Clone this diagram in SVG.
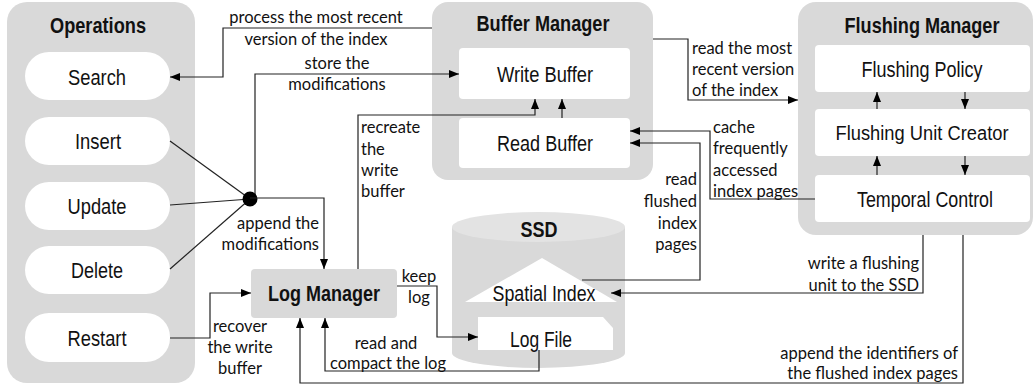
<svg xmlns="http://www.w3.org/2000/svg" width="1035" height="386" viewBox="0 0 1035 386">
<defs>
<marker id="ah" viewBox="0 0 10 10" refX="10" refY="5" markerWidth="10" markerHeight="10" markerUnits="userSpaceOnUse" orient="auto"><path d="M0,1 L10,5 L0,9 z" fill="#000"/></marker>
<style>
.panel{fill:#d9d9d9;}
.box{fill:#fff;}
.nt{font-family:"Liberation Sans Narrow","Liberation Sans",Arial,sans-serif;font-size:22px;fill:#111;text-anchor:middle;}
.tt{font-family:"Liberation Sans Narrow","Liberation Sans",Arial,sans-serif;font-size:22px;font-weight:bold;fill:#111;text-anchor:middle;}
.lb{font-family:Lato,"Open Sans",sans-serif;font-size:16.5px;fill:#111;}
.c{fill:none;stroke:#222;stroke-width:1.2;}
.a{marker-end:url(#ah);}
</style>
</defs>
<rect width="1035" height="386" fill="#fff"/>

<g id="operations">
<rect class="panel" x="7" y="2" width="188" height="381" rx="20"/>
<text class="tt" x="98" y="33" textLength="96" lengthAdjust="spacingAndGlyphs">Operations</text>
</g>
<g id="search">
<rect class="box" x="25" y="52" width="145" height="48" rx="24"/>
<text class="nt" x="97" y="85" textLength="58" lengthAdjust="spacingAndGlyphs">Search</text>
</g>
<g id="insert">
<rect class="box" x="25" y="117" width="145" height="48" rx="24"/>
<text class="nt" x="98" y="149" textLength="46" lengthAdjust="spacingAndGlyphs">Insert</text>
</g>
<g id="update">
<rect class="box" x="25" y="182" width="145" height="48" rx="24"/>
<text class="nt" x="97" y="214" textLength="59" lengthAdjust="spacingAndGlyphs">Update</text>
</g>
<g id="delete">
<rect class="box" x="25" y="246" width="145" height="48" rx="24"/>
<text class="nt" x="97" y="278" textLength="52" lengthAdjust="spacingAndGlyphs">Delete</text>
</g>
<g id="restart">
<rect class="box" x="25" y="313" width="145" height="49" rx="24"/>
<text class="nt" x="97" y="346" textLength="59" lengthAdjust="spacingAndGlyphs">Restart</text>
</g>

<g id="buffer-manager">
<rect class="panel" x="432" y="2" width="221" height="178" rx="16"/>
<text class="tt" x="543" y="31" textLength="133" lengthAdjust="spacingAndGlyphs">Buffer Manager</text>
</g>
<g id="write-buffer">
<rect class="box" x="459" y="48" width="171" height="51" rx="4"/>
<text class="nt" x="545" y="82" textLength="96" lengthAdjust="spacingAndGlyphs">Write Buffer</text>
</g>
<g id="read-buffer">
<rect class="box" x="459" y="118" width="171" height="50" rx="4"/>
<text class="nt" x="545" y="151" textLength="96" lengthAdjust="spacingAndGlyphs">Read Buffer</text>
</g>

<g id="flushing-manager">
<rect class="panel" x="798" y="2" width="235" height="233" rx="18"/>
<text class="tt" x="922" y="33" textLength="155" lengthAdjust="spacingAndGlyphs">Flushing Manager</text>
</g>
<g id="flushing-policy">
<rect class="box" x="815" y="45" width="215" height="47" rx="4"/>
<text class="nt" x="922" y="77" textLength="121" lengthAdjust="spacingAndGlyphs">Flushing Policy</text>
</g>
<g id="flushing-unit-creator">
<rect class="box" x="815" y="109" width="215" height="47" rx="4"/>
<text class="nt" x="922" y="140" style="font-size:20px" textLength="173" lengthAdjust="spacingAndGlyphs">Flushing Unit Creator</text>
</g>
<g id="temporal-control">
<rect class="box" x="815" y="175" width="215" height="47" rx="4"/>
<text class="nt" x="925" y="207" textLength="136" lengthAdjust="spacingAndGlyphs">Temporal Control</text>
</g>

<g id="log-manager">
<rect class="panel" x="251" y="269" width="146" height="49" rx="4"/>
<text class="tt" x="324" y="301" textLength="112" lengthAdjust="spacingAndGlyphs">Log Manager</text>
</g>

<g id="ssd">
<path d="M452,227 L452,353 A86.5,15 0 0 0 625,353 L625,227 Z" fill="#d9d9d9"/>
<ellipse cx="538.5" cy="227" rx="86.5" ry="15" fill="#e3e3e3"/>
<text class="tt" x="539" y="237" textLength="37" lengthAdjust="spacingAndGlyphs">SSD</text>
</g>
<g id="spatial-index">
<polygon points="542,258 617,302 465,302" fill="#fff"/>
<text class="nt" x="544" y="301" textLength="103" lengthAdjust="spacingAndGlyphs">Spatial Index</text>
</g>
<g id="log-file">
<polygon points="478,317 603,317 613,328 613,350 478,350" fill="#fff"/>
<text class="nt" x="541" y="347" textLength="62" lengthAdjust="spacingAndGlyphs">Log File</text>
</g>

<g id="connectors">
<polyline class="c a" points="432,28 223,28 223,77 170,77"/>
<polyline class="c a" points="255,197 255,74 459,74"/>
<line class="c" x1="170" y1="141" x2="250" y2="199"/>
<line class="c" x1="170" y1="205" x2="250" y2="199"/>
<line class="c" x1="170" y1="269" x2="250" y2="199"/>
<circle cx="250" cy="199" r="7.5" fill="#000"/>
<polyline class="c a" points="250,198 324,198 324,269"/>
<polyline class="c a" points="358,269 358,115 535,115 535,99"/>
<polyline class="c a" points="562,118 562,99"/>
<polyline class="c a" points="170,338 210,338 210,293 251,293"/>
<polyline class="c a" points="397,286 437,286 437,337 478,337"/>
<polyline class="c a" points="539,350 539,371 325,371 325,318"/>
<polyline class="c a" points="963,235 963,383 300,383 300,318"/>
<polyline class="c a" points="923,235 923,293 611,293"/>
<polyline class="c a" points="582,280 700,280 700,143 630,143"/>
<polyline class="c a" points="815,199 710,199 710,131 630,131"/>
<polyline class="c a" points="653,39 688,39 688,100 798,100"/>
<polyline class="c a" points="877,109 877,92"/>
<polyline class="c a" points="965,92 965,109"/>
<polyline class="c a" points="877,175 877,156"/>
<polyline class="c a" points="965,156 965,175"/>
</g>

<g id="labels">
<text class="lb" x="316" y="23" text-anchor="middle">process the most recent</text>
<text class="lb" x="316" y="45" text-anchor="middle">version of the index</text>
<text class="lb" x="337" y="69" text-anchor="middle">store the</text>
<text class="lb" x="337" y="90" text-anchor="middle">modifications</text>
<text class="lb" x="361" y="133">recreate</text>
<text class="lb" x="361" y="155">the</text>
<text class="lb" x="361" y="176">write</text>
<text class="lb" x="361" y="197">buffer</text>
<text class="lb" x="319" y="229" text-anchor="end">append the</text>
<text class="lb" x="319" y="250" text-anchor="end">modifications</text>
<text class="lb" x="240" y="332" text-anchor="middle">recover</text>
<text class="lb" x="240" y="353" text-anchor="middle">the write</text>
<text class="lb" x="240" y="374" text-anchor="middle">buffer</text>
<text class="lb" x="419" y="282" text-anchor="middle">keep</text>
<text class="lb" x="419" y="303" text-anchor="middle">log</text>
<text class="lb" x="386" y="349" text-anchor="middle">read and</text>
<text class="lb" x="388" y="369" text-anchor="middle">compact the log</text>
<text class="lb" x="697" y="185" text-anchor="end">read</text>
<text class="lb" x="697" y="207" text-anchor="end">flushed</text>
<text class="lb" x="697" y="229" text-anchor="end">index</text>
<text class="lb" x="697" y="250" text-anchor="end">pages</text>
<text class="lb" x="713" y="133">cache</text>
<text class="lb" x="713" y="154">frequently</text>
<text class="lb" x="713" y="176">accessed</text>
<text class="lb" x="713" y="197">index pages</text>
<text class="lb" x="692" y="54">read the most</text>
<text class="lb" x="692" y="75">recent version</text>
<text class="lb" x="692" y="96">of the index</text>
<text class="lb" x="919" y="269" text-anchor="end">write a flushing</text>
<text class="lb" x="919" y="291" text-anchor="end">unit to the SSD</text>
<text class="lb" x="958" y="359" text-anchor="end">append the identifiers of</text>
<text class="lb" x="958" y="379" text-anchor="end">the flushed index pages</text>
</g>
</svg>
